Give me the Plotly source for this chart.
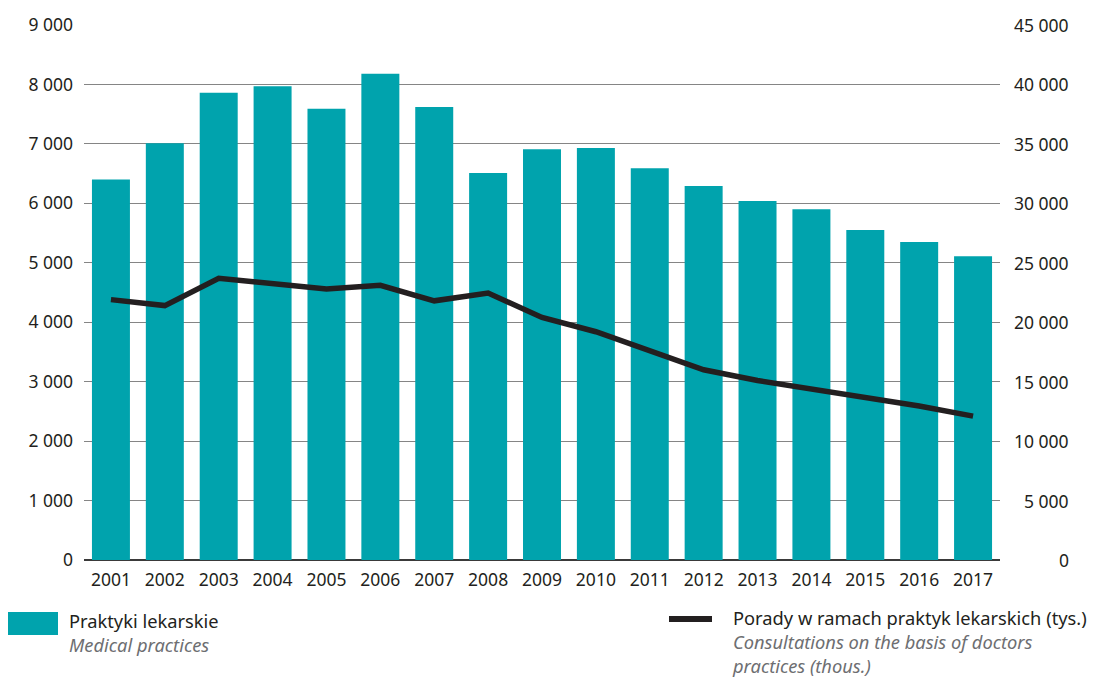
import plotly.graph_objects as go

years = [str(y) for y in range(2001, 2018)]
practices = [6400, 7010, 7860, 7970, 7590, 8180, 7620, 6510, 6910, 6930, 6590, 6290, 6040, 5900, 5550, 5350, 5110]
consultations = [21900, 21400, 23700, 23300, 22800, 23100, 21800, 22450, 20400, 19200, 17650, 16000, 15100, 14400, 13700, 12950, 12100]

left_ticks = [0, 1000, 2000, 3000, 4000, 5000, 6000, 7000, 8000, 9000]
left_labels = ["0", "1 000", "2 000", "3 000", "4 000", "5 000", "6 000", "7 000", "8 000", "9 000"]
right_ticks = [0, 5000, 10000, 15000, 20000, 25000, 30000, 35000, 40000, 45000]
right_labels = ["0", "5 000", "10 000", "15 000", "20 000", "25 000", "30 000", "35 000", "40 000", "45 000"]

TEAL = "#00A3AD"
DARK = "#231F20"
GRAY = "#6d6e71"
FONT = "Noto Sans"
TICK = 17.5
LEG = 18.3

fig = go.Figure()
fig.add_trace(go.Bar(x=years, y=practices, marker=dict(color=TEAL, line=dict(width=0)),
                     name="Praktyki lekarskie", showlegend=False))
fig.add_trace(go.Scatter(x=years, y=consultations, yaxis="y2", mode="lines",
                         line=dict(color=DARK, width=5.5), name="Porady", showlegend=False))

fig.update_layout(
    width=1100, height=677,
    margin=dict(l=84, r=100, t=25, b=117),
    paper_bgcolor="white", plot_bgcolor="white",
    bargap=0.295,
    font=dict(family=FONT, size=TICK, color=DARK),
    xaxis=dict(showgrid=False, showline=False, zeroline=False, ticks="",
               tickfont=dict(size=TICK, color=DARK), ticklabelstandoff=7),
    yaxis=dict(range=[0, 9000], tickvals=left_ticks, ticktext=left_labels,
               showgrid=True, gridcolor="#858585", gridwidth=1.4,
               zeroline=True, zerolinecolor="#3a3a3a", zerolinewidth=2,
               showline=False, ticks="", ticklabelstandoff=10,
               tickfont=dict(size=TICK, color=DARK)),
    yaxis2=dict(range=[0, 45000], overlaying="y", side="right",
                tickvals=right_ticks, showticklabels=False, showgrid=False,
                zeroline=False, showline=False, ticks=""),
)

annotations = []
for v, t in zip(right_ticks, right_labels):
    annotations.append(dict(x=1.0775, y=v, xref="paper", yref="y2", text=t, showarrow=False,
                            xanchor="right", yanchor="middle", font=dict(size=TICK, color=DARK)))

def px_x(p):
    return (p - 84) / 916

def px_y(p):
    return (560 - p) / 535

gray_span = "<span style='color:%s'><i>%s</i></span>"
annotations += [
    dict(x=px_x(68), y=px_y(632), xref="paper", yref="paper",
         text="Praktyki lekarskie<br>" + gray_span % (GRAY, "Medical practices"),
         showarrow=False, xanchor="left", yanchor="middle", align="left", borderpad=0,
         font=dict(size=LEG, color=DARK)),
    dict(x=px_x(731), y=px_y(641), xref="paper", yref="paper",
         text="Porady w ramach praktyk lekarskich (tys.)<br>"
              + gray_span % (GRAY, "Consultations on the basis of doctors") + "<br>"
              + gray_span % (GRAY, "practices (thous.)"),
         showarrow=False, xanchor="left", yanchor="middle", align="left", borderpad=0,
         font=dict(size=LEG, color=DARK)),
]
fig.update_layout(annotations=annotations)

fig.update_layout(shapes=[
    dict(type="rect", xref="paper", yref="paper", x0=px_x(8), x1=px_x(58), y0=px_y(635), y1=px_y(612),
         fillcolor=TEAL, line=dict(width=0)),
    dict(type="line", xref="paper", yref="paper", x0=px_x(669), x1=px_x(712), y0=px_y(619), y1=px_y(619),
         line=dict(color=DARK, width=6)),
])

fig.write_html("out.html", config={"displayModeBar": False},
               post_script="document.body.style.margin='0';document.body.style.overflow='hidden';")
